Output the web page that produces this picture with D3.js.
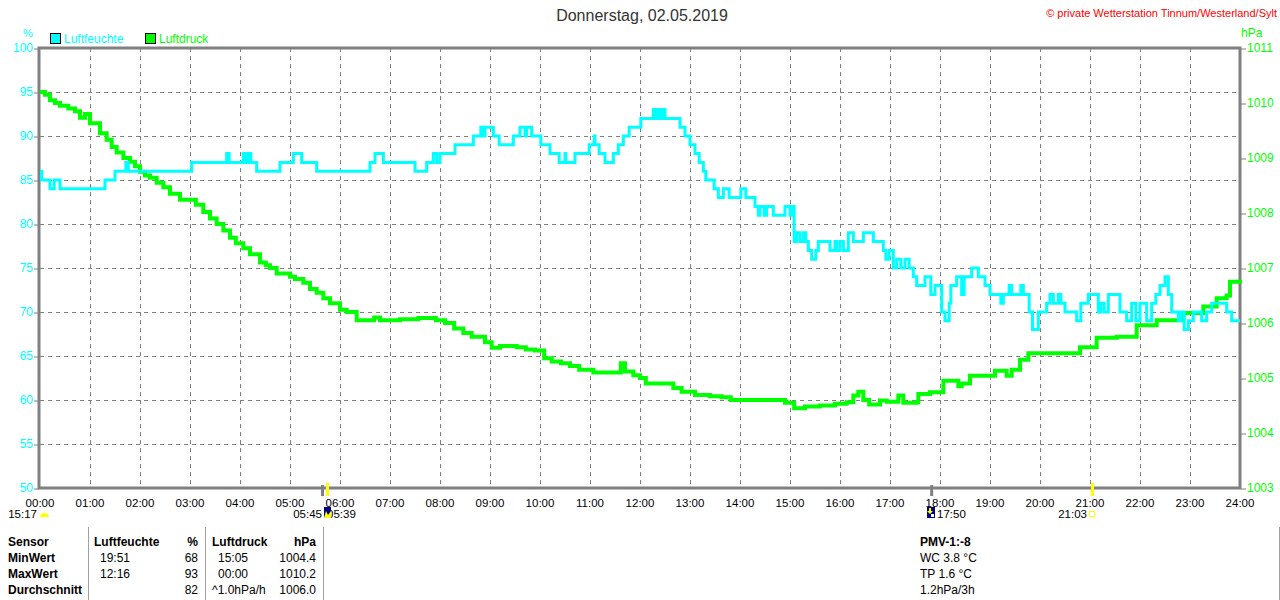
<!DOCTYPE html>
<html>
<head>
<meta charset="utf-8">
<script src="https://cdn.jsdelivr.net/npm/d3@7"></script>
<style>
  body { margin: 0; background: #ffffff; }
  svg text { font-family: 'Liberation Sans', Arial, sans-serif; }
</style>
</head>
<body>
<div id="chart"></div>
<script>
const canvas_w  =   1280;
const canvas_h  =   600;

// tick labels
const hourLabels  = d3.range( 0, 25 ).map( h => d3.format( '02' )( h ) + ':00' );
const humTicks    = [ 50, 55, 60, 65, 70, 75, 80, 85, 90, 95, 100 ];
const presTicks   = [ 1003, 1004, 1005, 1006, 1007, 1008, 1009, 1010, 1011 ];

// Luftfeuchte (%), minutes after midnight
const humTime  = [ 0, 2, 12, 17, 24, 78, 90, 103, 106, 182, 224, 227, 244, 247, 250, 253, 260, 288, 304, 314,
                   332, 396, 402, 412, 450, 464, 472, 476, 480, 498, 520, 529, 532, 534, 544, 551, 568, 576, 582, 584,
                   590, 601, 612, 623, 630, 631, 642, 659, 665, 666, 671, 678, 688, 694, 700, 707, 721, 736, 739, 742,
                   745, 748, 750, 768, 774, 780, 786, 791, 796, 799, 809, 814, 820, 827, 841, 847, 858, 862, 864, 869,
                   872, 880, 894, 900, 902, 905, 908, 912, 916, 919, 922, 926, 931, 934, 948, 954, 956, 960, 964, 970,
                   976, 988, 1000, 1012, 1015, 1019, 1024, 1028, 1033, 1038, 1043, 1048, 1052, 1062, 1069, 1074, 1082, 1086, 1091, 1093,
                   1100, 1106, 1109, 1118, 1126, 1134, 1140, 1153, 1156, 1163, 1166, 1177, 1180, 1187, 1191, 1198, 1208, 1212, 1216, 1222,
                   1225, 1230, 1244, 1249, 1258, 1270, 1273, 1277, 1282, 1296, 1304, 1310, 1315, 1320, 1328, 1334, 1339, 1344, 1350, 1354,
                   1358, 1366, 1369, 1373, 1378, 1384, 1394, 1400, 1406, 1424, 1430, 1440 ];
const humValue = [ 86, 85, 84, 85, 84, 85, 86, 87, 86, 87, 88, 87, 88, 87, 88, 87, 86, 87, 88, 87,
                   86, 87, 88, 87, 86, 87, 88, 87, 88, 89, 90, 91, 90, 91, 90, 89, 90, 91, 90, 91,
                   90, 89, 88, 87, 88, 87, 88, 89, 90, 89, 88, 87, 88, 89, 90, 91, 92, 93, 92, 93,
                   92, 93, 92, 91, 90, 89, 88, 87, 86, 85, 84, 83, 84, 83, 84, 83, 82, 81, 82, 81,
                   82, 81, 82, 81, 82, 78, 79, 78, 79, 78, 77, 76, 77, 78, 77, 78, 77, 78, 77, 79,
                   78, 79, 78, 77, 76, 77, 75, 76, 75, 76, 75, 74, 73, 74, 72, 73, 70, 69, 71, 73,
                   74, 72, 74, 75, 74, 73, 72, 71, 72, 73, 72, 73, 72, 70, 68, 70, 71, 72, 71, 72,
                   71, 70, 69, 71, 72, 70, 71, 70, 72, 70, 69, 71, 69, 71, 69, 71, 72, 73, 74, 72,
                   70, 69, 70, 68, 69, 70, 69, 70, 71, 70, 69, 69 ];

// Luftdruck (hPa), minutes after midnight
const presTime  = [ 0, 6, 12, 18, 24, 34, 42, 48, 54, 60, 72, 80, 86, 92, 100, 108, 114, 120, 126, 132,
                    140, 148, 156, 168, 180, 187, 196, 204, 212, 220, 228, 235, 244, 252, 264, 271, 276, 284, 300, 306,
                    316, 324, 332, 340, 348, 360, 368, 380, 396, 401, 408, 432, 454, 475, 486, 497, 508, 518, 534, 542,
                    552, 562, 572, 583, 594, 605, 614, 625, 636, 647, 664, 695, 697, 702, 712, 720, 727, 749, 760, 770,
                    786, 804, 818, 829, 852, 883, 894, 905, 918, 936, 954, 968, 976, 982, 988, 995, 1008, 1016, 1030, 1036,
                    1052, 1054, 1068, 1084, 1096, 1102, 1106, 1116, 1140, 1146, 1154, 1160, 1166, 1176, 1186, 1212, 1248, 1268, 1292, 1316,
                    1340, 1372, 1396, 1412, 1424, 1428, 1440 ];
const presValue = [ 1010.2, 1010.15, 1010.05, 1010.0, 1009.95, 1009.9, 1009.85, 1009.73, 1009.8, 1009.63, 1009.45, 1009.33, 1009.2, 1009.1, 1009.0, 1008.93, 1008.85, 1008.75, 1008.68, 1008.64,
                    1008.55, 1008.47, 1008.35, 1008.24, 1008.24, 1008.15, 1008.02, 1007.9, 1007.8, 1007.68, 1007.55, 1007.45, 1007.36, 1007.25, 1007.1, 1007.05, 1007.0, 1006.9, 1006.84, 1006.8,
                    1006.73, 1006.62, 1006.55, 1006.45, 1006.36, 1006.24, 1006.2, 1006.05, 1006.05, 1006.1, 1006.05, 1006.07, 1006.09, 1006.05, 1006.0, 1005.9, 1005.82, 1005.75, 1005.65, 1005.55,
                    1005.58, 1005.58, 1005.56, 1005.52, 1005.5, 1005.36, 1005.3, 1005.27, 1005.22, 1005.15, 1005.1, 1005.1, 1005.27, 1005.12, 1005.05, 1005.0, 1004.9, 1004.9, 1004.82, 1004.75,
                    1004.69, 1004.67, 1004.65, 1004.6, 1004.6, 1004.6, 1004.55, 1004.45, 1004.48, 1004.5, 1004.53, 1004.56, 1004.68, 1004.75, 1004.6, 1004.52, 1004.59, 1004.57, 1004.68, 1004.55,
                    1004.56, 1004.71, 1004.74, 1004.95, 1004.95, 1004.85, 1004.9, 1005.04, 1005.04, 1005.13, 1005.13, 1005.04, 1005.15, 1005.33, 1005.45, 1005.45, 1005.56, 1005.73, 1005.75, 1005.96,
                    1006.05, 1006.18, 1006.3, 1006.45, 1006.5, 1006.75, 1006.72 ];

// sun / moon markers on the time axis
const markerTime   = [ 339, 345, 1070, 1263 ];
const markerColour = [ '#808080', '#ffff00', '#808080', '#ffff00' ];

// statistics table
const tableLabels = [ 'Sensor', 'MinWert', 'MaxWert', 'Durchschnitt' ];
const humTimes    = [ 'Luftfeuchte', '19:51', '12:16', '' ];
const humStats    = [ '%', '68', '93', '82' ];
const presTimes   = [ 'Luftdruck', '15:05', '00:00', '^1.0hPa/h' ];
const presStats   = [ 'hPa', '1004.4', '1010.2', '1006.0' ];
const pmvLines    = [ 'PMV-1:-8', 'WC 3.8 °C', 'TP 1.6 °C', '1.2hPa/3h' ];

const humColour   = '#00ffff';
const presColour  = '#00ff00';
const gridColour  = '#808080';

let x     = d3.scaleLinear().domain( [ 0, 1440 ] ).range( [ 40, 1240 ] );
let yHum  = d3.scaleLinear().domain( [ 50, 100 ] ).range( [ 488, 48 ] );
let yPres = d3.scaleLinear().domain( [ 1003, 1011 ] ).range( [ 488, 48 ] );

let svg = d3.select( '#chart' )
            .append( 'svg' )
            .attr( 'width', canvas_w )
            .attr( 'height', canvas_h );

// title and copyright
svg.append( 'text' )
   .attr( 'x', 642 ).attr( 'y', 21 )
   .attr( 'text-anchor', 'middle' )
   .attr( 'font-size', 16 ).attr( 'fill', '#333' )
   .text( 'Donnerstag, 02.05.2019' );

svg.append( 'text' )
   .attr( 'x', 1277 ).attr( 'y', 17 )
   .attr( 'text-anchor', 'end' )
   .attr( 'font-size', 11 ).attr( 'fill', '#ff0000' )
   .text( '© private Wetterstation Tinnum/Westerland/Sylt' );

// legend
svg.append( 'text' ).attr( 'x', 23 ).attr( 'y', 37 ).attr( 'font-size', 11 ).attr( 'fill', humColour ).text( '%' );
svg.append( 'text' ).attr( 'x', 1241 ).attr( 'y', 37 ).attr( 'font-size', 12 ).attr( 'fill', presColour ).text( 'hPa' );

[ [ 50, 'Luftfeuchte', humColour ], [ 145, 'Luftdruck', presColour ] ].forEach( function ( d ) {
    svg.append( 'rect' )
       .attr( 'x', d[0] + 0.5 ).attr( 'y', 33.5 )
       .attr( 'width', 10 ).attr( 'height', 10 )
       .attr( 'fill', d[2] ).attr( 'stroke', '#000' );
    svg.append( 'text' )
       .attr( 'x', d[0] + 14 ).attr( 'y', 43 )
       .attr( 'font-size', 12 ).attr( 'fill', d[2] )
       .text( d[1] );
});

// grid
let grid = svg.append( 'g' )
              .attr( 'stroke', gridColour )
              .attr( 'stroke-dasharray', '4,4' );

grid.selectAll( 'line.v' )
    .data( d3.range( 60, 1440, 60 ) )
    .enter()
    .append( 'line' )
    .attr( 'x1', d => x( d ) + 0.5 ).attr( 'x2', d => x( d ) + 0.5 )
    .attr( 'y1', 48 ).attr( 'y2', 488 );

grid.selectAll( 'line.h' )
    .data( humTicks.slice( 1, -1 ) )
    .enter()
    .append( 'line' )
    .attr( 'x1', 40 ).attr( 'x2', 1240 )
    .attr( 'y1', d => yHum( d ) + 0.5 ).attr( 'y2', d => yHum( d ) + 0.5 );

// axes
let leftAxis = svg.append( 'g' )
                  .attr( 'transform', 'translate(39,0)' )
                  .call( d3.axisLeft( yHum ).tickValues( humTicks ).tickSize( 5 ).tickSizeOuter( 0 ) );
leftAxis.select( '.domain' ).remove();
leftAxis.selectAll( 'line' ).attr( 'stroke', gridColour ).attr( 'transform', 'translate(0,0.5)' );
leftAxis.selectAll( 'text' ).attr( 'fill', humColour ).attr( 'font-size', 12 ).attr( 'x', -6 )
        .attr( 'font-family', "'Liberation Sans', Arial, sans-serif" );

let rightAxis = svg.append( 'g' )
                   .attr( 'transform', 'translate(1241,0)' )
                   .call( d3.axisRight( yPres ).tickValues( presTicks ).tickFormat( d3.format( 'd' ) )
                            .tickSize( 5 ).tickSizeOuter( 0 ) );
rightAxis.select( '.domain' ).remove();
rightAxis.selectAll( 'line' ).attr( 'stroke', gridColour ).attr( 'transform', 'translate(0,0.5)' );
rightAxis.selectAll( 'text' ).attr( 'fill', presColour ).attr( 'font-size', 12 ).attr( 'x', 6 )
         .attr( 'font-family', "'Liberation Sans', Arial, sans-serif" );

svg.selectAll( 'text.hour' )
   .data( hourLabels )
   .enter()
   .append( 'text' )
   .attr( 'class', 'hour' )
   .attr( 'x', ( d, i ) => x( i * 60 ) )
   .attr( 'y', 507 )
   .attr( 'text-anchor', 'middle' )
   .attr( 'font-size', 11.5 )
   .text( d => d );

// frame
svg.append( 'path' )
   .attr( 'd', 'M39,488 L39,48 L1240,48 L1240,488 Z' )
   .attr( 'fill', 'none' )
   .attr( 'stroke', gridColour )
   .attr( 'stroke-width', 3 );

// lines
let presLine = d3.line()
                 .curve( d3.curveStepAfter )
                 .x( ( d, i ) => x( presTime[i] ) )
                 .y( d => yPres( d ) );

let humLine = d3.line()
                .curve( d3.curveStepAfter )
                .x( ( d, i ) => x( humTime[i] ) )
                .y( d => yHum( d ) );

svg.append( 'path' )
   .attr( 'd', presLine( presValue ) )
   .attr( 'fill', 'none' )
   .attr( 'stroke', presColour )
   .attr( 'stroke-width', 4 );

svg.append( 'path' )
   .attr( 'd', humLine( humValue ) )
   .attr( 'fill', 'none' )
   .attr( 'stroke', humColour )
   .attr( 'stroke-width', 3 );

// sun and moon markers
svg.selectAll( 'rect.marker' )
   .data( markerTime )
   .enter()
   .append( 'rect' )
   .attr( 'x', d => x( d ) - 1.5 )
   .attr( 'y', ( d, i ) => markerColour[i] == '#ffff00' ? 483 : 485 )
   .attr( 'width', 3 )
   .attr( 'height', ( d, i ) => markerColour[i] == '#ffff00' ? 13 : 11 )
   .attr( 'fill', ( d, i ) => markerColour[i] );

let small = svg.append( 'g' ).attr( 'font-size', 11.5 );
small.append( 'text' ).attr( 'x', 37 ).attr( 'y', 518 ).attr( 'text-anchor', 'end' ).text( '15:17' );
small.append( 'text' ).attr( 'x', 322 ).attr( 'y', 518 ).attr( 'text-anchor', 'end' ).text( '05:45' );
small.append( 'text' ).attr( 'x', 327 ).attr( 'y', 518 ).text( '05:39' );
small.append( 'text' ).attr( 'x', 937 ).attr( 'y', 518 ).text( '17:50' );
small.append( 'text' ).attr( 'x', 1087 ).attr( 'y', 518 ).attr( 'text-anchor', 'end' ).text( '21:03' );

// moon icon
svg.append( 'path' )
   .attr( 'd', 'M40,517 A4.5,4 0 0 1 49,517 Z' )
   .attr( 'fill', '#ffff00' );
// sunrise / sunset icons
svg.append( 'rect' ).attr( 'x', 324 ).attr( 'y', 507 ).attr( 'width', 7 ).attr( 'height', 11 ).attr( 'fill', '#000080' );
svg.append( 'path' ).attr( 'd', 'M324,518 L326,511 L328,515 L331,511 L331,518 Z' ).attr( 'fill', '#ffff00' );
svg.append( 'rect' ).attr( 'x', 927 ).attr( 'y', 507 ).attr( 'width', 8 ).attr( 'height', 11 ).attr( 'fill', '#000080' );
svg.append( 'path' ).attr( 'd', 'M929,508 L931,508 L931,511 L933,511 L930,514 L927,511 L929,511 Z' ).attr( 'fill', '#ffff00' );
svg.append( 'rect' ).attr( 'x', 931 ).attr( 'y', 514 ).attr( 'width', 3 ).attr( 'height', 3 ).attr( 'fill', '#ffffff' );
svg.append( 'rect' ).attr( 'x', 1089.5 ).attr( 'y', 511.5 ).attr( 'width', 5 ).attr( 'height', 5 )
   .attr( 'fill', 'none' ).attr( 'stroke', '#ffff00' );

// table separators
[ 88, 205, 323, 1279 ].forEach( function ( px ) {
    svg.append( 'line' )
       .attr( 'x1', px + 0.5 ).attr( 'x2', px + 0.5 )
       .attr( 'y1', 527 ).attr( 'y2', 600 )
       .attr( 'stroke', '#a0a0a0' );
});

let table = svg.append( 'g' ).attr( 'font-size', 12 ).attr( 'fill', '#000' );
let rowY = [ 546, 562, 578, 594 ];

tableLabels.forEach( function ( t, i ) {
    table.append( 'text' ).attr( 'x', 8 ).attr( 'y', rowY[i] ).attr( 'font-weight', 'bold' ).text( t );
    table.append( 'text' ).attr( 'x', i == 0 ? 94 : 100 ).attr( 'y', rowY[i] )
         .attr( 'font-weight', i == 0 ? 'bold' : 'normal' ).text( humTimes[i] );
    table.append( 'text' ).attr( 'x', 198 ).attr( 'y', rowY[i] ).attr( 'text-anchor', 'end' )
         .attr( 'font-weight', i == 0 ? 'bold' : 'normal' ).text( humStats[i] );
    table.append( 'text' ).attr( 'x', i == 0 || i == 3 ? 212 : 218 ).attr( 'y', rowY[i] )
         .attr( 'font-weight', i == 0 ? 'bold' : 'normal' ).text( presTimes[i] );
    table.append( 'text' ).attr( 'x', 316 ).attr( 'y', rowY[i] ).attr( 'text-anchor', 'end' )
         .attr( 'font-weight', i == 0 ? 'bold' : 'normal' ).text( presStats[i] );
    table.append( 'text' ).attr( 'x', 920 ).attr( 'y', rowY[i] )
         .attr( 'font-weight', i == 0 ? 'bold' : 'normal' ).text( pmvLines[i] );
});
</script>
</body>
</html>
